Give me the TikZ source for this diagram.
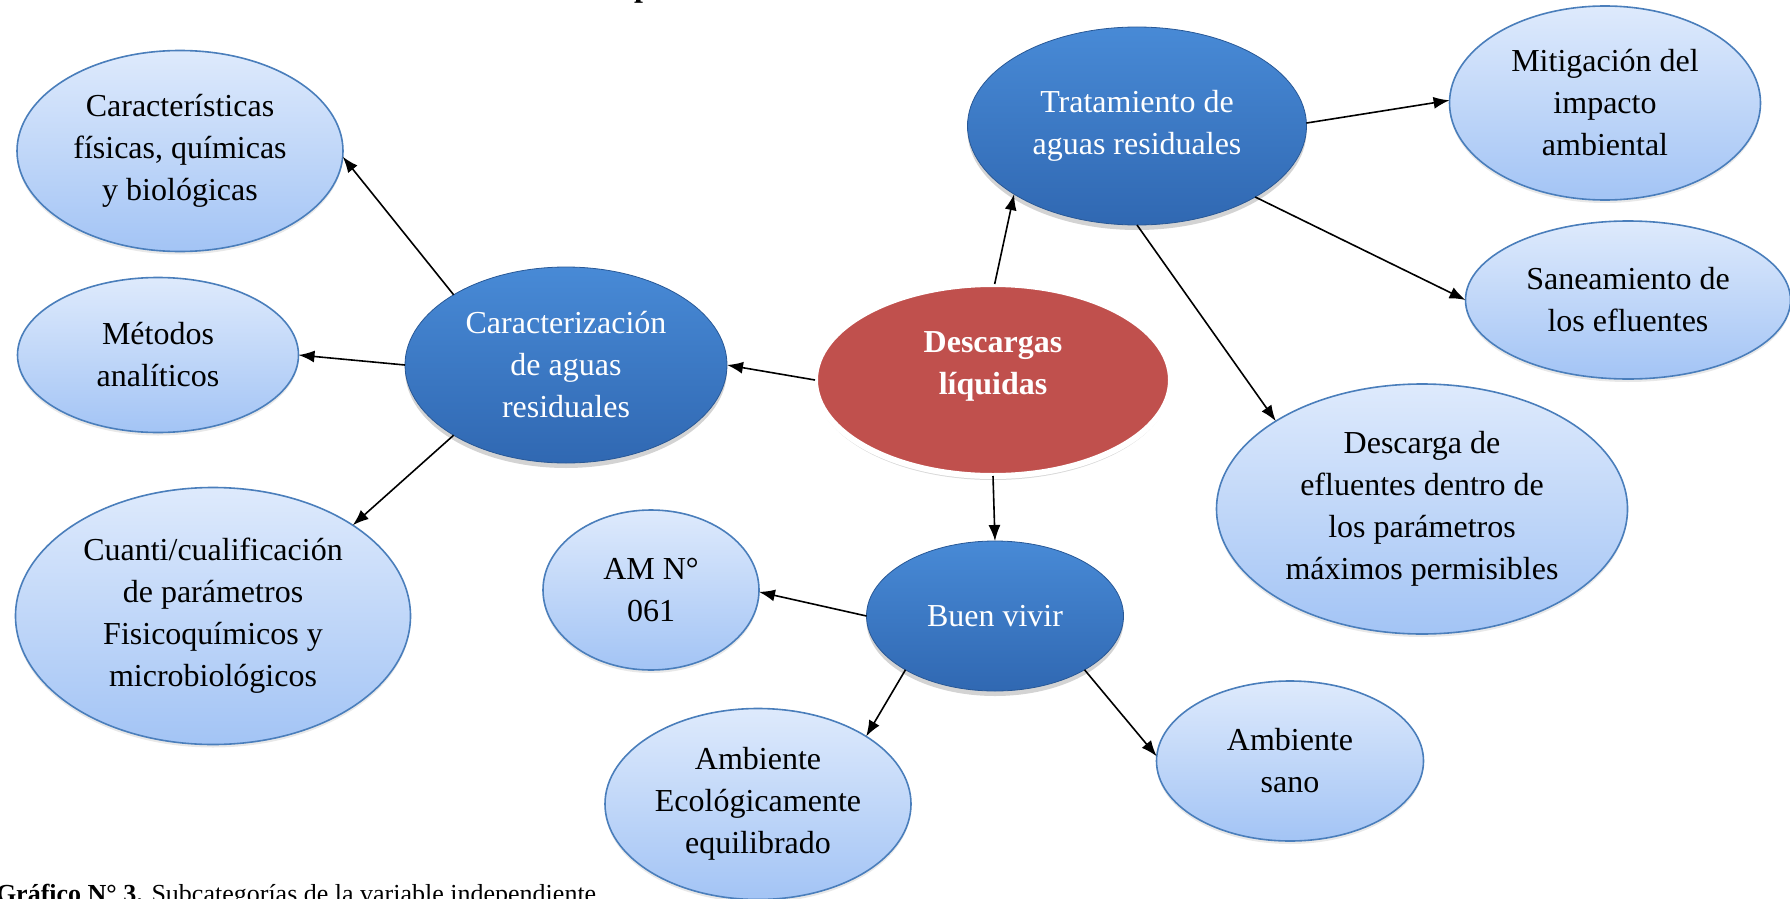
\documentclass[tikz,border=0pt]{standalone}
\usepackage{fontspec}
\setmainfont{Liberation Serif}
\usetikzlibrary{shapes.geometric,arrows.meta,shadows}
\definecolor{lightTop}{RGB}{222,234,252}
\definecolor{lightBot}{RGB}{163,196,245}
\definecolor{lightLine}{RGB}{74,126,187}
\definecolor{darkTop}{RGB}{72,138,214}
\definecolor{darkBot}{RGB}{48,104,178}
\definecolor{darkLine}{RGB}{40,88,150}
\definecolor{redFill}{RGB}{192,80,77}
\tikzset{
  x=1pt, y=-1pt,
  every node/.style={font=\fontsize{32}{42}\selectfont, align=center, inner sep=0pt, outer sep=0pt},
  lightell/.style={ellipse, top color=lightTop, bottom color=lightBot, draw=lightLine, line width=1.6pt,
     drop shadow={shadow xshift=0pt, shadow yshift=-3pt, opacity=.18}},
  darkell/.style={ellipse, top color=darkTop, bottom color=darkBot, draw=darkLine, line width=0.8pt, text=white,
     drop shadow={shadow xshift=0pt, shadow yshift=-5pt, opacity=.35}},
  redell/.style={ellipse, fill=redFill, draw=white, line width=6pt,
     drop shadow={shadow xshift=0pt, shadow yshift=-4pt, opacity=.3}},
  conn/.style={line width=1.6pt, -{Latex[length=16pt,width=12pt]}}
}
\begin{document}
\begin{tikzpicture}
\useasboundingbox (0,0) rectangle (1790,899);
% cut title fragment at top
\node[anchor=base, font=\fontsize{32}{38}\selectfont\bfseries] (ttl) at (643,-3) {p};
% nodes
\node[lightell, minimum width=326pt, minimum height=201pt] (car) at (180,151) {Características\\físicas, químicas\\y biológicas};
\node[lightell, minimum width=281pt, minimum height=155pt] (met) at (158,355) {Métodos\\analíticos};
\node[lightell, minimum width=395pt, minimum height=257pt] (cua) at (213,616) {Cuanti/cualificación\\de parámetros\\Fisicoquímicos y\\microbiológicos};
\node[darkell, minimum width=322pt, minimum height=196pt] (cara) at (566,365) {Caracterización\\de aguas\\residuales};
\node[redell, minimum width=356pt, minimum height=192pt] (desc) at (993,380) {};
\node[text=white, font=\fontsize{32}{42}\selectfont\bfseries] (desctext) at (993,366) {Descargas\\líquidas};
\node[darkell, minimum width=339pt, minimum height=198pt] (trat) at (1137,126) {Tratamiento de\\aguas residuales};
\node[lightell, minimum width=311pt, minimum height=194pt] (mit) at (1605,103) {Mitigación del\\impacto\\ambiental};
\node[lightell, minimum width=325pt, minimum height=158pt] (san) at (1628,300) {Saneamiento de\\los efluentes};
\node[lightell, minimum width=411pt, minimum height=250pt] (def) at (1422,509) {Descarga de\\efluentes dentro de\\los parámetros\\máximos permisibles};
\node[lightell, minimum width=216pt, minimum height=160pt] (am) at (651,590) {AM N°\\061};
\node[darkell, minimum width=257pt, minimum height=150pt] (buen) at (995,616) {Buen vivir};
\node[lightell, minimum width=306pt, minimum height=191pt] (eco) at (758,804) {Ambiente\\Ecológicamente\\equilibrado};
\node[lightell, minimum width=267pt, minimum height=160pt] (sano) at (1290,761) {Ambiente\\sano};
% connectors
\draw[conn] (cara.148) -- (car.-2);
\draw[conn] (cara.180) -- (met.-0.5);
\draw[conn] (cara.212) -- (cua.33);
\draw[conn] (desc.180) -- (cara.0);
\draw[conn] (desc.89) -- (trat.209);
\draw[conn] (trat.1) -- (mit.179);
\draw[conn] (trat.-31) -- (san.180);
\draw[conn] (trat.-90) -- (def.149);
\draw[conn] (desc.-90) -- (buen.90);
\draw[conn] (buen.180) -- (am.-1);
\draw[conn] (buen.211) -- (eco.32);
\draw[conn] (buen.-31) -- (sano.178);
% caption
\node[anchor=base west, font=\fontsize{26}{30}\selectfont] (cap) at (-4,902) {\textbf{Gráfico N° 3.} Subcategorías de la variable independiente};
\end{tikzpicture}
\end{document}
